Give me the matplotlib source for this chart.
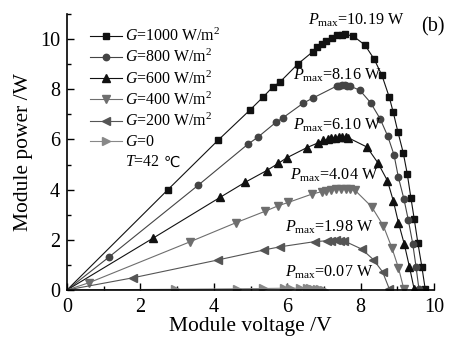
import numpy as np
import matplotlib
matplotlib.use('Agg')
import matplotlib.pyplot as plt
from matplotlib.ticker import MultipleLocator

plt.rcParams['font.family'] = ['Liberation Serif', 'DejaVu Serif', 'DejaVu Sans']
plt.rcParams['mathtext.fontset'] = 'custom'
plt.rcParams['mathtext.rm'] = 'Liberation Serif'
plt.rcParams['mathtext.it'] = 'Liberation Serif:italic'

# G = 1000 W/m2
v1000 = [0, 2.75, 4.11, 4.99, 5.35, 5.60, 5.81, 6.30, 6.70, 6.82, 6.96, 7.07, 7.21, 7.35, 7.48,
         7.57, 7.80, 8.12, 8.37, 8.58, 8.78, 8.89, 9.02, 9.16, 9.27, 9.37, 9.46, 9.56, 9.67, 9.76]
p1000 = [0, 4.00, 5.96, 7.18, 7.70, 8.08, 8.30, 9.02, 9.50, 9.68, 9.82, 9.94, 10.06, 10.15, 10.18,
         10.19, 10.12, 9.76, 9.20, 8.56, 7.69, 7.08, 6.28, 5.48, 4.64, 3.68, 2.84, 1.88, 0.92, 0.04]
# G = 800
v800 = [0, 1.15, 3.57, 4.92, 5.20, 5.69, 5.88, 6.44, 6.70, 7.35, 7.42, 7.50, 7.57, 7.64, 7.71,
        7.98, 8.27, 8.53, 8.74, 8.91, 9.03, 9.18, 9.30, 9.42, 9.51, 9.59]
p800 = [0, 1.32, 4.17, 5.80, 6.09, 6.68, 6.86, 7.45, 7.65, 8.13, 8.15, 8.16, 8.16, 8.15, 8.13,
        7.96, 7.47, 6.83, 6.13, 5.39, 4.49, 3.63, 2.79, 1.85, 0.93, 0.03]
# G = 600
v600 = [0, 2.35, 4.18, 4.85, 5.44, 5.76, 5.99, 6.53, 6.85, 6.98, 7.10, 7.20, 7.30, 7.40, 7.50,
        7.60, 7.66, 8.17, 8.47, 8.73, 8.89, 9.03, 9.19, 9.33, 9.46]
p600 = [0, 2.07, 3.70, 4.29, 4.76, 5.05, 5.27, 5.67, 5.87, 5.96, 6.00, 6.04, 6.07, 6.09, 6.10,
        6.09, 6.07, 5.70, 5.07, 4.36, 3.56, 2.69, 1.83, 0.93, 0.03]
# G = 400
v400 = [0, 0.60, 3.35, 4.60, 5.40, 5.76, 6.03, 6.67, 6.94, 7.07, 7.20, 7.33, 7.46, 7.59, 7.72,
        7.85, 8.30, 8.62, 8.85, 9.03, 9.18]
p400 = [0, 0.29, 1.92, 2.68, 3.14, 3.36, 3.49, 3.82, 3.92, 3.96, 3.99, 4.02, 4.04, 4.03, 4.01,
        3.97, 3.32, 2.56, 1.69, 0.89, 0.03]
# G = 200
v200 = [0, 1.81, 4.12, 5.38, 5.80, 6.76, 7.08, 7.20, 7.32, 7.44, 7.56, 8.03, 8.35, 8.60, 8.78]
p200 = [0, 0.49, 1.20, 1.60, 1.72, 1.93, 1.96, 1.97, 1.98, 1.97, 1.95, 1.63, 1.21, 0.72, 0.05]
# G = 0
v0 = [0, 2.94, 4.64, 5.35, 5.90, 6.08, 6.35, 6.53, 6.62, 6.71, 6.80, 6.90, 7.00]
p0 = [0, 0.03, 0.05, 0.06, 0.07, 0.07, 0.07, 0.07, 0.06, 0.05, 0.04, 0.02, 0.0]

labels = ['1000 W/m$^2$', '800 W/m$^2$', '600 W/m$^2$', '400 W/m$^2$', '200 W/m$^2$', '0']
pmax = ['10.19', '8.16', '6.10', '4.04', '1.98', '0.07']

fig = plt.figure(figsize=(4.58, 3.4), dpi=100)
ax = fig.add_axes([67 / 458, 1 - 290 / 340, 367 / 458, 276 / 340])

series = [(v1000, p1000, 's', '#111111', 4.4),
          (v800, p800, 'o', '#444444', 4.6),
          (v600, p600, '^', '#111111', 5.2),
          (v400, p400, 'v', '#6e6e6e', 5.2),
          (v200, p200, '<', '#555555', 5.2),
          (v0, p0, '>', '#888888', 5.2)]

for (v, p, m, c, ms), lab in zip(series, labels):
    ax.plot(v, p, marker=m, color=c, markersize=ms, linewidth=0.8, markevery=list(range(1, len(v))),
            label='$G$=' + lab)

ax.set_xlim(0, 10)
ax.set_ylim(0, 11)
ax.xaxis.set_major_locator(MultipleLocator(2))
ax.xaxis.set_minor_locator(MultipleLocator(1))
ax.yaxis.set_major_locator(MultipleLocator(2))
ax.yaxis.set_minor_locator(MultipleLocator(1))
ax.tick_params(which='both', direction='in', labelsize=14.5, width=1)
ax.tick_params(which='major', length=5)
ax.tick_params(which='minor', length=3)
ax.tick_params(axis='y', pad=5)
ax.tick_params(axis='x', pad=6)
ax.spines['top'].set_visible(False)
ax.spines['right'].set_visible(False)
ax.spines['left'].set_linewidth(1.2)
ax.spines['bottom'].set_linewidth(1.2)

ax.set_xlabel('Module voltage /V', fontsize=15.5, labelpad=0)
ax.set_ylabel('Module power /W', fontsize=15.5, labelpad=5)

leg = ax.legend(loc='upper left', bbox_to_anchor=(82 / 458, 1 - 20 / 340),
                bbox_transform=fig.transFigure, frameon=False, fontsize=11.4,
                handlelength=2.0, handletextpad=0.2, labelspacing=0.25, borderpad=0)

# temperature note; the degree-Celsius sign comes from DejaVu Sans
t1 = fig.text(125 / 458, 1 - 162 / 340, '$T$=42', fontsize=11.4, va='center', ha='left')
fig.canvas.draw()
bb = t1.get_window_extent()
fig.text((bb.x1 + 4) / 458, 1 - 162 / 340, '℃', fontsize=10.5, family='DejaVu Sans',
         va='center', ha='left')

# P_max annotations
pos = [(308, 20), (293, 75), (293, 125), (290, 175), (285, 227), (285, 272)]
for (px, py), val in zip(pos, pmax):
    fig.text(px / 458, 1 - py / 340, r'$P_{\rm max}$=' + val + ' W', fontsize=11.6,
             va='center', ha='left')

fig.text(433 / 458, 1 - 27 / 340, '(b)', fontsize=14.5, va='center', ha='center')

fig.savefig('out.png', dpi=100)
